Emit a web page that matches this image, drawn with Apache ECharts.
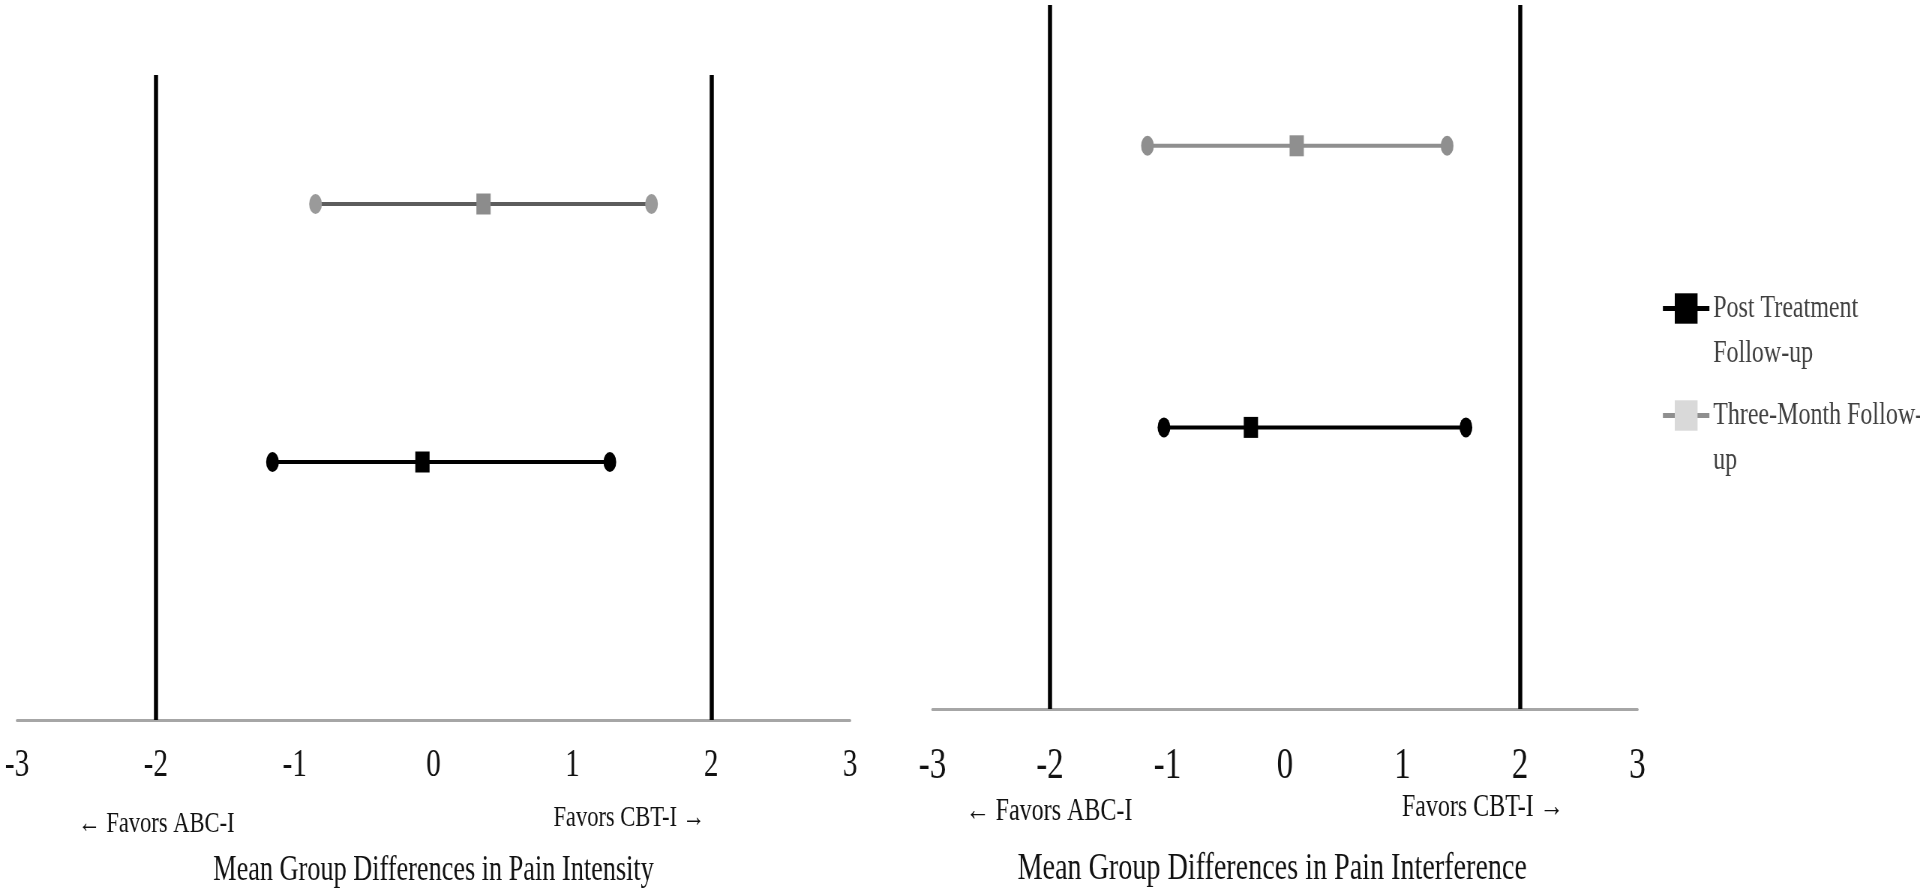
<!DOCTYPE html>
<html>
<head>
<meta charset="utf-8">
<script src="https://cdn.jsdelivr.net/npm/echarts@6/dist/echarts.min.js"></script>
<style>
html,body{margin:0;padding:0;background:#fff;overflow:hidden;}
#wrap{width:1920px;height:893px;overflow:hidden;position:relative;}
#chart{width:2560px;height:893px;transform:scaleX(0.75);transform-origin:0 0;}
</style>
</head>
<body>
<div id="wrap"><div id="chart"></div></div>
<script>
// ---- data ----
const seriesNames = ['Post Treatment\nFollow-up', 'Three-Month Follow-\nup'];
const rowPositions = [2, 4];              // vertical position of each series row
const thresholds = [-2, 2];               // reference lines
const xTicks = [-3, -2, -1, 0, 1, 2, 3];
// [lower, mean, upper]
const intensityPost = [-1.16, -0.08, 1.27];
const intensityThree = [-0.85, 0.36, 1.57];
const interferencePost = [-1.03, -0.29, 1.54];
const interferenceThree = [-1.17, 0.10, 1.38];
const panelTitles = ['Mean Group Differences in Pain Intensity', 'Mean Group Differences in Pain Interference'];
const favorLabels = ['\u2190 Favors ABC-I', 'Favors CBT-I \u2192'];

const FONT = 'Liberation Serif';
const chart = echarts.init(document.getElementById('chart'), null, {renderer: 'canvas'});

function ciData(vals, y, endColor, midColor) {
  return vals.map((v, i) => ({
    value: [v, y],
    symbol: i === 1 ? 'rect' : 'circle',
    symbolSize: i === 1 ? [19, 21] : [17, 20],
    itemStyle: {color: i === 1 ? midColor : endColor}
  }));
}

const grids = [
  {left: 22.7, width: 1110.7, top: 75, height: 651},
  {left: 1243.3, width: 940, top: 5, height: 704}
];

function xAxisFor(idx, opt) {
  return {
    gridIndex: idx, type: 'value', min: xTicks[0], max: xTicks[xTicks.length - 1], interval: 1,
    axisLine: {show: true, lineStyle: {color: '#a6a6a6', width: 3}},
    axisTick: {show: false}, splitLine: {show: false},
    axisLabel: {color: '#111', fontFamily: FONT, fontSize: opt.labelSize, margin: opt.labelMargin},
    name: panelTitles[idx], nameLocation: 'middle', nameGap: opt.nameGap,
    nameTextStyle: {color: '#111', fontFamily: FONT, fontSize: opt.nameSize, padding: opt.namePad}
  };
}

function yAxisFor(idx) {
  return {gridIndex: idx, type: 'value', min: 0, max: 5, show: false};
}

const markLineCfg = {
  silent: true, symbol: 'none', label: {show: false},
  lineStyle: {color: '#000', width: 5.5, type: 'solid'},
  data: thresholds.map(t => ({xAxis: t}))
};

const series = [
  {
    name: seriesNames[0], type: 'line', xAxisIndex: 0, yAxisIndex: 0, symbol: 'rect',
    lineStyle: {color: '#000', width: 4}, itemStyle: {color: '#000'},
    data: ciData(intensityPost, rowPositions[0], '#000', '#000'),
    markLine: markLineCfg, z: 3
  },
  {
    name: seriesNames[1], type: 'line', xAxisIndex: 0, yAxisIndex: 0, symbol: 'rect',
    lineStyle: {color: '#5c5c5c', width: 4}, itemStyle: {color: '#9a9a9a'},
    data: ciData(intensityThree, rowPositions[1], '#9a9a9a', '#8c8c8c'), z: 3
  },
  {
    name: seriesNames[0], type: 'line', xAxisIndex: 1, yAxisIndex: 1, symbol: 'rect',
    lineStyle: {color: '#000', width: 4}, itemStyle: {color: '#000'},
    data: ciData(interferencePost, rowPositions[0], '#000', '#000'),
    markLine: markLineCfg, z: 3
  },
  {
    name: seriesNames[1], type: 'line', xAxisIndex: 1, yAxisIndex: 1, symbol: 'rect',
    lineStyle: {color: '#8f8f8f', width: 4}, itemStyle: {color: '#8f8f8f'},
    data: ciData(interferenceThree, rowPositions[1], '#8f8f8f', '#8f8f8f'), z: 3
  }
];

// [x, y, fontSize] for the "favors" captions of each panel
const favorPos = [
  [[208.5, 824, 30], [839, 818, 30]],
  [[1398.7, 812, 32], [1977, 808, 32]]
];
const graphics = [];
favorPos.forEach(panel => panel.forEach((p, j) => {
  graphics.push({
    type: 'text', x: p[0], y: p[1],
    style: {text: favorLabels[j], fill: '#111', font: p[2] + 'px "' + FONT + '"', textAlign: 'center', textVerticalAlign: 'middle'}
  });
}));

chart.setOption({
  animation: false,
  backgroundColor: '#fff',
  grid: grids,
  xAxis: [
    xAxisFor(0, {labelSize: 39, labelMargin: 26, nameGap: 133, nameSize: 35, namePad: 0}),
    xAxisFor(1, {labelSize: 44, labelMargin: 35, nameGap: 141, nameSize: 37.5, namePad: [0, 34, 0, 0]})
  ],
  yAxis: [yAxisFor(0), yAxisFor(1)],
  legend: {
    orient: 'vertical', left: 2214.7, top: 241, padding: 0,
    itemWidth: 62, itemHeight: 38, itemGap: -28,
    formatter: name => '\n' + name,
    textStyle: {fontFamily: FONT, fontSize: 32, color: '#404040', lineHeight: 45},
    data: [
      {name: seriesNames[0], itemStyle: {color: '#000'}, lineStyle: {color: '#000', width: 5}},
      {name: seriesNames[1], itemStyle: {color: '#d9d9d9'}, lineStyle: {color: '#8f8f8f', width: 5}}
    ]
  },
  graphic: graphics,
  series: series
});
</script>
</body>
</html>
